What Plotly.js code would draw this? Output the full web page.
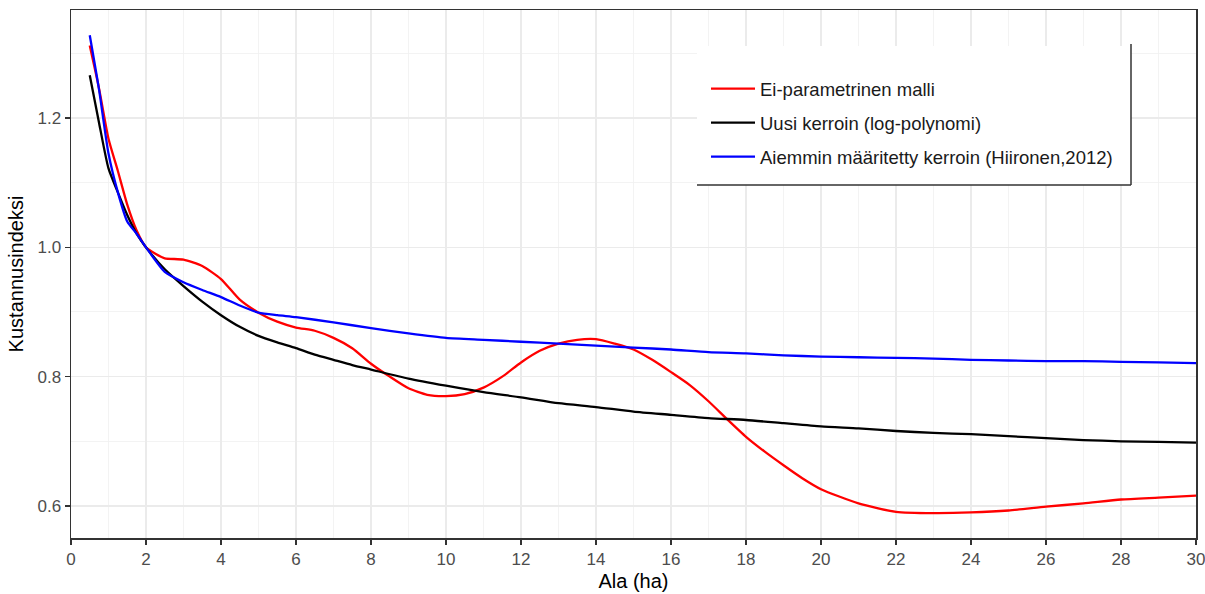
<!DOCTYPE html>
<html>
<head>
<meta charset="utf-8">
<script src="https://cdn.plot.ly/plotly-3.0.1.min.js"></script>
<style>html,body{margin:0;padding:0;background:#fff;}#chart{width:1205px;height:594px;}</style>
</head>
<body>
<div id="chart"></div>
<script>
// Ei-parametrinen malli
const redX = [0.5,0.75,1,1.25,1.5,1.75,2,2.25,2.5,3,3.5,4,4.5,5,5.5,6,6.5,7,7.5,8,8.5,9,9.5,10,10.5,11,11.5,12,12.5,13,13.5,14,14.5,15,15.5,16,16.5,17,17.5,18,18.5,19,19.5,20,21,22,23,24,25,26,27,28,29,30];
const redY = [1.312,1.245,1.168,1.118,1.066,1.026,1.000,0.990,0.983,0.981,0.971,0.951,0.919,0.899,0.885,0.876,0.871,0.860,0.844,0.820,0.800,0.782,0.772,0.770,0.773,0.783,0.800,0.822,0.840,0.851,0.857,0.858,0.851,0.842,0.826,0.807,0.787,0.762,0.734,0.707,0.684,0.663,0.643,0.626,0.604,0.591,0.589,0.590,0.593,0.599,0.604,0.610,0.613,0.616];
// Uusi kerroin (log-polynomi)
const blackX = [0.5,0.75,1,1.25,1.5,1.75,2,2.5,3,3.5,4,4.5,5,5.5,6,6.5,7,7.5,8,9,10,11,12,13,14,15,16,17,18,19,20,21,22,23,24,25,26,27,28,29,30];
const blackY = [1.266,1.192,1.122,1.085,1.050,1.021,1.000,0.966,0.940,0.916,0.895,0.877,0.863,0.853,0.844,0.834,0.826,0.818,0.811,0.797,0.786,0.776,0.768,0.759,0.753,0.746,0.741,0.736,0.733,0.728,0.723,0.720,0.716,0.713,0.711,0.708,0.705,0.702,0.700,0.699,0.698];
// Aiemmin määritetty kerroin (Hiironen,2012)
const blueX = [0.5,0.75,1,1.25,1.5,1.75,2,2.5,3,3.5,4,4.5,5,5.5,6,7,8,9,10,11,12,13,14,15,16,17,18,19,20,21,22,23,24,25,26,27,28,29,30];
const blueY = [1.328,1.243,1.145,1.085,1.040,1.021,1.000,0.962,0.946,0.934,0.923,0.910,0.899,0.895,0.892,0.884,0.875,0.867,0.860,0.857,0.854,0.851,0.848,0.845,0.842,0.838,0.836,0.833,0.831,0.830,0.829,0.828,0.826,0.825,0.824,0.824,0.823,0.822,0.821];

const seriesNames = ["Ei-parametrinen malli","Uusi kerroin (log-polynomi)","Aiemmin määritetty kerroin (Hiironen,2012)"];
const xTicks = [0,2,4,6,8,10,12,14,16,18,20,22,24,26,28,30];
const yTicks = [0.6,0.8,1.0,1.2];
const yTickText = ["0.6","0.8","1.0","1.2"];

const FONT = "Liberation Sans, Arial, sans-serif";
function tr(x,y,name,color,g){
  return {x:x,y:y,name:name,type:'scatter',mode:'lines',legendgroup:g,
    line:{color:color,width:2.3,shape:'spline',smoothing:0.6},hoverinfo:'skip'};
}
const data = [
  tr(redX,redY,seriesNames[0],'#FF0000','a'),
  tr(blackX,blackY,seriesNames[1],'#000000','b'),
  tr(blueX,blueY,seriesNames[2],'#0000FF','c')
];

const bx0 = (697-71)/1125, bx1 = (1131-71)/1125, by0 = (538-46)/528, by1 = (538-185)/528;

const layout = {
  width:1205,height:594,
  margin:{l:71,r:9,t:10,b:56},
  paper_bgcolor:'#fff',plot_bgcolor:'#fff',
  font:{family:FONT,color:'#4d4d4d'},
  showlegend:true,
  legend:{x:(706-71)/1125,y:(538-70)/528,xanchor:'left',yanchor:'top',bgcolor:'rgba(0,0,0,0)',
    font:{family:FONT,size:18.5,color:'#1a1a1a'},traceorder:'grouped',tracegroupgap:7,borderwidth:0,itemwidth:44},
  xaxis:{range:[0,30],tickmode:'array',tickvals:xTicks,ticks:'outside',ticklen:5,tickcolor:'#333',tickwidth:1.2,
    showline:true,linecolor:'#333',linewidth:1.5,mirror:true,zeroline:false,ticklabeloverflow:'allow',
    showgrid:true,gridcolor:'#ebebeb',gridwidth:1.2,
    minor:{dtick:1,showgrid:true,gridcolor:'#f0f0f0',gridwidth:0.8,ticks:''},
    tickfont:{family:FONT,size:17,color:'#4d4d4d'},
    title:{text:'Ala (ha)',font:{family:FONT,size:20,color:'#000'},standoff:6}},
  yaxis:{range:[0.5505,1.367],tickmode:'array',tickvals:yTicks,ticktext:yTickText,ticks:'outside',ticklen:5,tickcolor:'#333',tickwidth:1.2,
    showline:true,linecolor:'#333',linewidth:1.5,mirror:true,zeroline:false,
    showgrid:true,gridcolor:'#ebebeb',gridwidth:1.2,
    minor:{dtick:0.1,tick0:0.6,showgrid:true,gridcolor:'#f0f0f0',gridwidth:0.8,ticks:''},
    tickfont:{family:FONT,size:17,color:'#4d4d4d'},
    title:{text:'Kustannusindeksi',font:{family:FONT,size:20,color:'#000'},standoff:8}},
  shapes:[
    {type:'rect',xref:'paper',yref:'paper',x0:bx0,x1:bx1,y0:by1,y1:by0,fillcolor:'#fff',line:{width:0},layer:'above'},
    {type:'line',xref:'paper',yref:'paper',x0:bx1,x1:bx1,y0:by1,y1:(538-44)/528,line:{color:'#333',width:1.5},layer:'above'},
    {type:'line',xref:'paper',yref:'paper',x0:bx0,x1:bx1,y0:by1,y1:by1,line:{color:'#333',width:1.5},layer:'above'}
  ]
};
Plotly.newPlot('chart',data,layout,{staticPlot:true,displayModeBar:false});
</script>
</body>
</html>
